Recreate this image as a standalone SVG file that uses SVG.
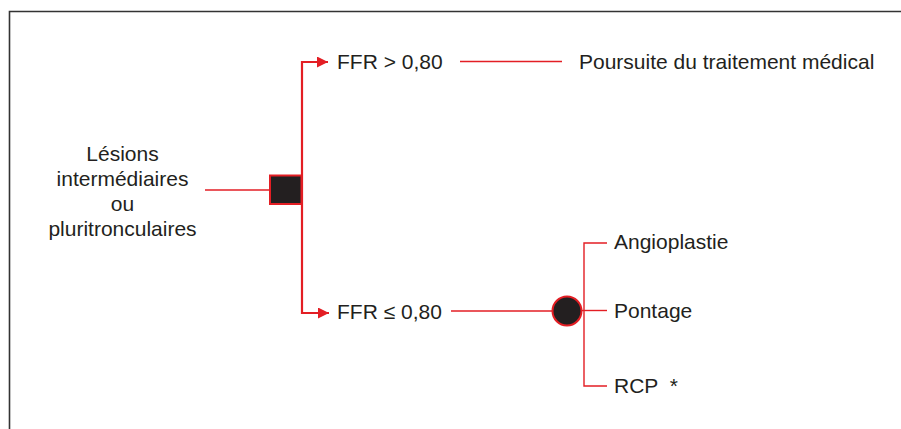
<svg xmlns="http://www.w3.org/2000/svg" width="901" height="429" viewBox="0 0 901 429">
<defs>
<style>
text{font-family:"Liberation Sans",Arial,Helvetica,sans-serif;font-size:21px;fill:#231f20}
.c{stroke:#e31e24;fill:none}
.thin{stroke-width:1.4}
.thick{stroke-width:2.2}
</style>
<marker id="ah" markerWidth="11" markerHeight="11" refX="10" refY="5" orient="auto" markerUnits="userSpaceOnUse" viewBox="0 0 10 10">
<path d="M0,0 L10,5 L0,10 Z" fill="#e31e24"/>
</marker>
</defs>
<rect width="901" height="429" fill="#fff"/>
<path d="M9.5,429 V11.5 H901" fill="none" stroke="#333" stroke-width="1.6"/>
<g id="connectors">
<line class="c thin" x1="205" y1="190" x2="270" y2="190"/>
<path class="c thick" d="M302,190 V62 H328" marker-end="url(#ah)"/>
<path class="c thick" d="M302,190 V313 H329" marker-end="url(#ah)"/>
<line class="c thin" x1="460" y1="61.5" x2="562" y2="61.5"/>
<line class="c thin" x1="451" y1="311" x2="553" y2="311"/>
<line class="c thin" x1="581" y1="310.5" x2="607" y2="310.5"/>
<path class="c thin" d="M607,243 H584 V386 H607"/>
</g>
<g id="n-lesions">
<text x="122.5" y="161" text-anchor="middle">Lésions</text>
<text x="122.5" y="186" text-anchor="middle">intermédiaires</text>
<text x="122.5" y="210.5" text-anchor="middle">ou</text>
<text x="122.5" y="235.5" text-anchor="middle">pluritronculaires</text>
</g>
<g id="n-square">
<rect x="270" y="175.5" width="31.5" height="28.5" fill="#231f20" stroke="#e31e24" stroke-width="2"/>
</g>
<g id="n-ffr-high">
<text x="337" y="69">FFR &gt; 0,80</text>
</g>
<g id="n-poursuite">
<text x="579" y="69">Poursuite du traitement médical</text>
</g>
<g id="n-ffr-low">
<text x="337" y="319">FFR ≤ 0,80</text>
</g>
<g id="n-circle">
<circle cx="567" cy="311" r="14.5" fill="#231f20" stroke="#e31e24" stroke-width="2"/>
</g>
<g id="n-angioplastie">
<text x="614" y="249">Angioplastie</text>
</g>
<g id="n-pontage">
<text x="614" y="318">Pontage</text>
</g>
<g id="n-rcp">
<text x="614" y="393">RCP <tspan dx="6">*</tspan></text>
</g>
</svg>
